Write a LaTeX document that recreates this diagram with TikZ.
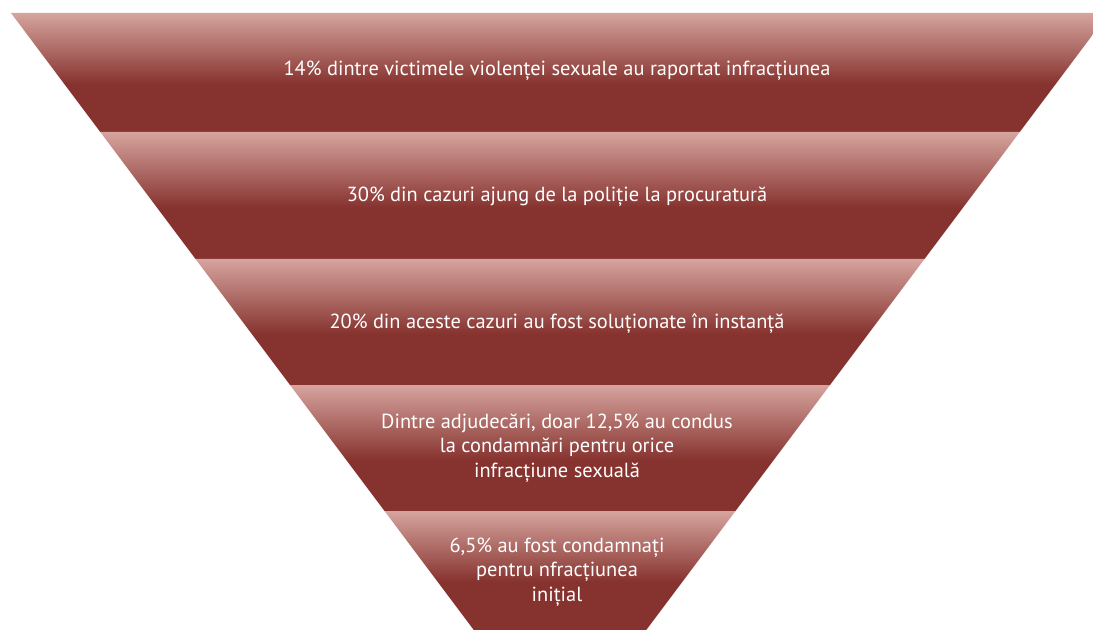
\documentclass[tikz,border=0pt]{standalone}
\usepackage{fontspec}
\setmainfont{PT Sans}
\usetikzlibrary{positioning}

\definecolor{bandlight}{RGB}{214,164,158}
\definecolor{banddark}{RGB}{134,50,46}
\pgfdeclareverticalshading{funnelband}{100bp}{color(0bp)=(banddark); color(25bp)=(banddark); color(45bp)=(banddark); color(75bp)=(bandlight); color(100bp)=(bandlight)}

\tikzset{
  band/.style={shading=funnelband, draw=none},
  bandtext/.style={text=white, align=center, font=\fontsize{20.4bp}{24.5bp}\selectfont, inner sep=0pt}
}

\begin{document}
\begin{tikzpicture}[x=1bp, y=-1bp]
  \useasboundingbox (0,0) rectangle (1093,630);
  \clip (0,0) rectangle (1093,630);
  % Bands of the funnel, top to bottom
  \shade[band] (11,13) -- (1109,13) -- (1019.75,132) -- (100.25,132) -- cycle;
  \shade[band] (100.25,132) -- (1019.75,132) -- (924.5,259) -- (195.5,259) -- cycle;
  \shade[band] (195.5,259) -- (924.5,259) -- (830,385) -- (290,385) -- cycle;
  \shade[band] (290,385) -- (830,385) -- (735.5,511) -- (384.5,511) -- cycle;
  \shade[band] (384.5,511) -- (735.5,511) -- (646.25,630) -- (473.75,630) -- cycle;
  % Labels
  \node[bandtext] (reported) at (557,71) {14\% dintre victimele violenței sexuale au raportat infracțiunea};
  \node[bandtext] (prosecution) at (557,197) {30\% din cazuri ajung de la poliție la procuratură};
  \node[bandtext] (court) at (557,324) {20\% din aceste cazuri au fost soluționate în instanță};
  \node[bandtext] (convicted) at (557,448) {Dintre adjudecări, doar 12,5\% au condus\\la condamnări pentru orice\\infracțiune sexuală};
  \node[bandtext] (initial) at (557,572) {6,5\% au fost condamnați\\pentru nfracțiunea\\inițial};
\end{tikzpicture}
\end{document}
